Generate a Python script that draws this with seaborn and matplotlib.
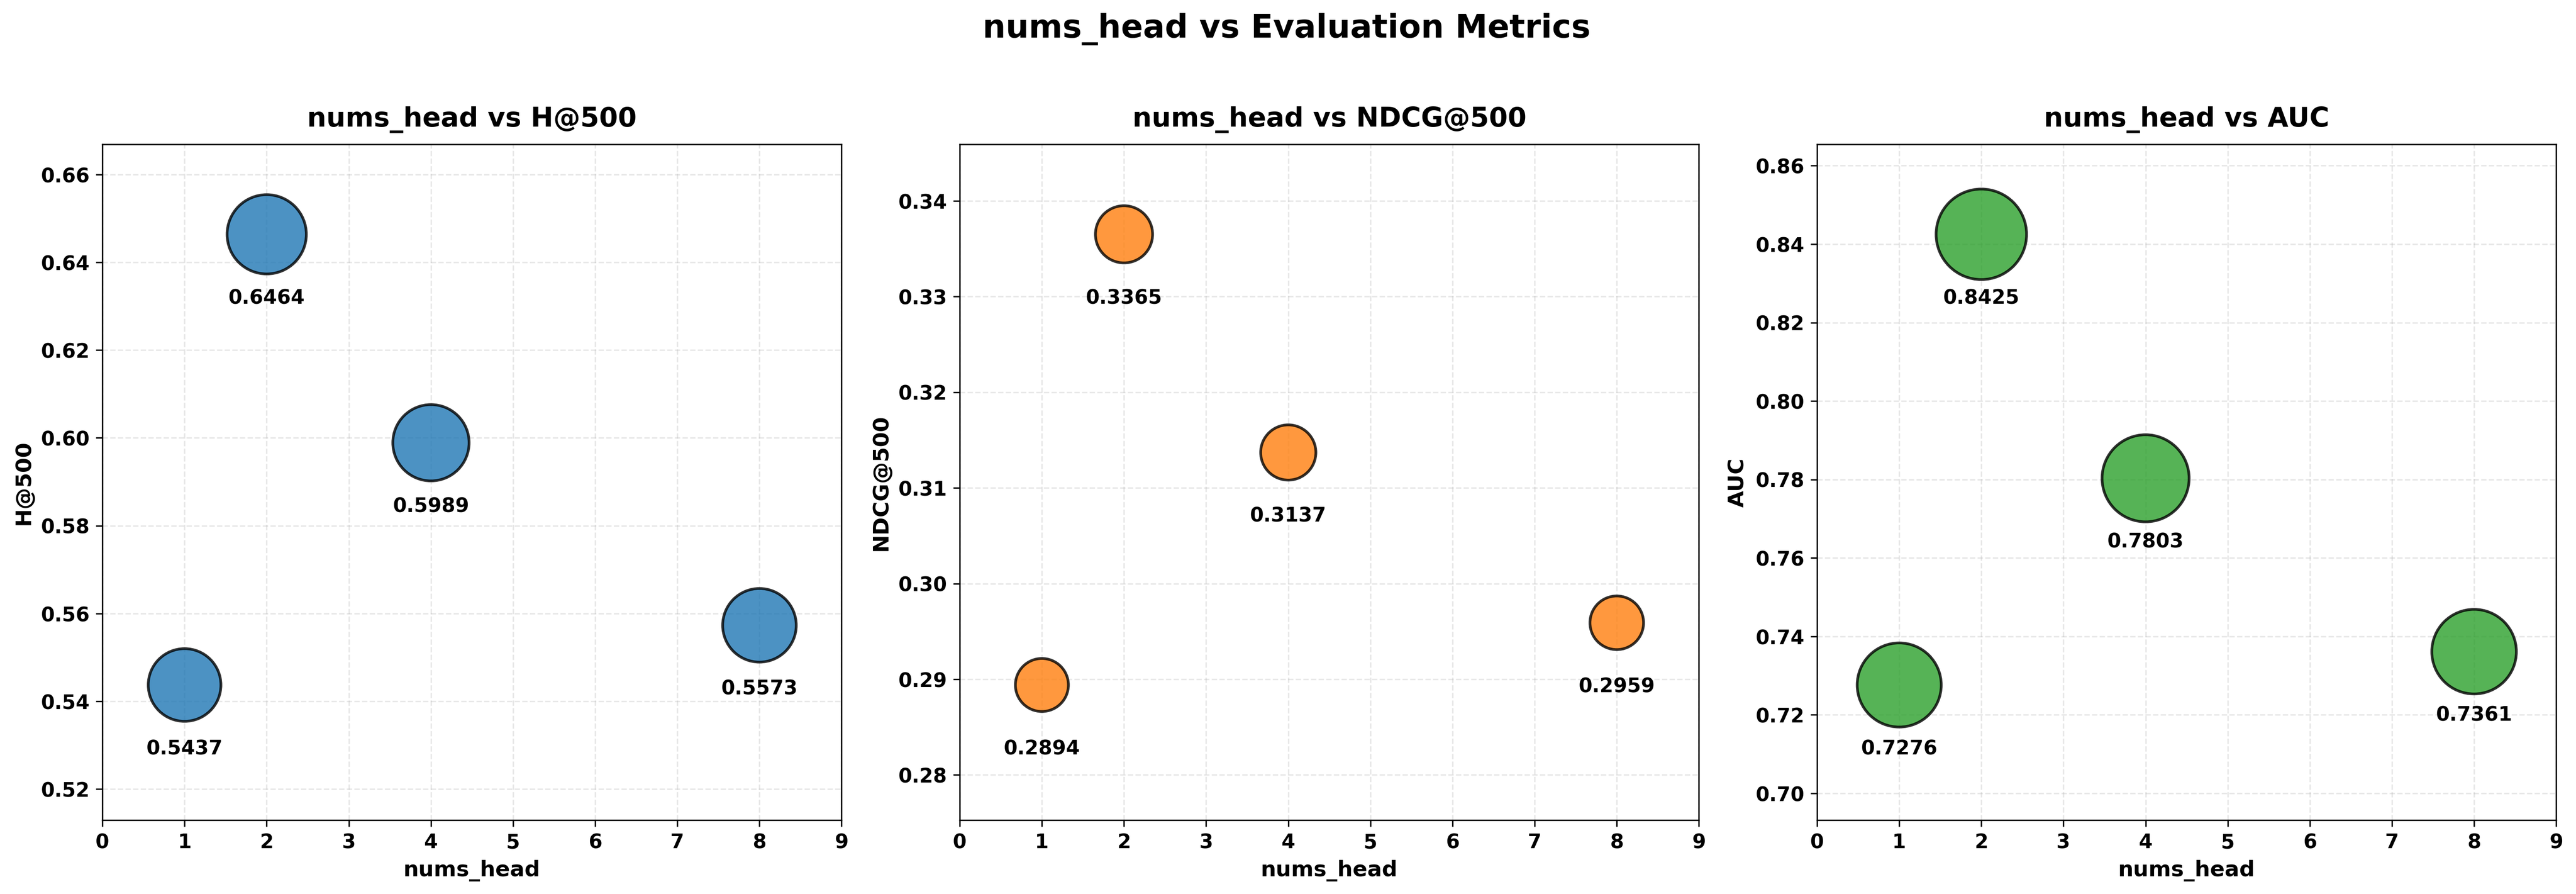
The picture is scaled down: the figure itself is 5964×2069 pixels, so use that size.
import numpy as np
import pandas as pd
import matplotlib
matplotlib.use("Agg")
import matplotlib.pyplot as plt
import seaborn as sns

nums_head = [1, 2, 4, 8]
h500 = [0.5437, 0.6464, 0.5989, 0.5573]
ndcg500 = [0.2894, 0.3365, 0.3137, 0.2959]
auc = [0.7276, 0.8425, 0.7803, 0.7361]

metric_names = ["H@500", "NDCG@500", "AUC"]
metric_values = [h500, ndcg500, auc]
colors = ["#1f77b4", "#ff7f0e", "#2ca02c"]

plt.rcParams['font.weight'] = 'bold'
plt.rcParams['axes.labelweight'] = 'bold'
plt.rcParams['axes.titleweight'] = 'bold'

fig, axes = plt.subplots(1, 3, figsize=(20, 7))

for ax, name, vals, color in zip(axes, metric_names, metric_values, colors):
    df = pd.DataFrame({'nums_head': nums_head, name: vals})
    sns.scatterplot(data=df, x='nums_head', y=name, s=np.array(vals) * 3000,
                    color=color, alpha=0.8, edgecolor='black', linewidth=1.5,
                    legend=False, ax=ax, zorder=3)
    for x, v in zip(nums_head, vals):
        ax.annotate(f"{v:.4f}", (x, v), xytext=(0, -30), textcoords='offset points',
                    ha='center', va='top', fontsize=11, fontweight='bold')
    rng = max(vals) - min(vals)
    ax.set_ylim(min(vals) - 0.3 * rng, max(vals) + 0.2 * rng)
    ax.set_xlim(0, 9)
    ax.set_xticks(range(0, 10))
    ax.set_xlabel('nums_head', fontsize=12, fontweight='bold')
    ax.set_ylabel(name, fontsize=12, fontweight='bold')
    ax.set_title(f"nums_head vs {name}", fontsize=15, fontweight='bold', pad=10)
    ax.tick_params(labelsize=11)
    ax.grid(True, linestyle='--', alpha=0.3)
    ax.set_axisbelow(True)

fig.suptitle('nums_head vs Evaluation Metrics', fontsize=18, fontweight='bold', y=0.98)
plt.tight_layout()
plt.subplots_adjust(top=0.835, bottom=0.09)
plt.savefig('out.png', dpi=300, bbox_inches='tight')
